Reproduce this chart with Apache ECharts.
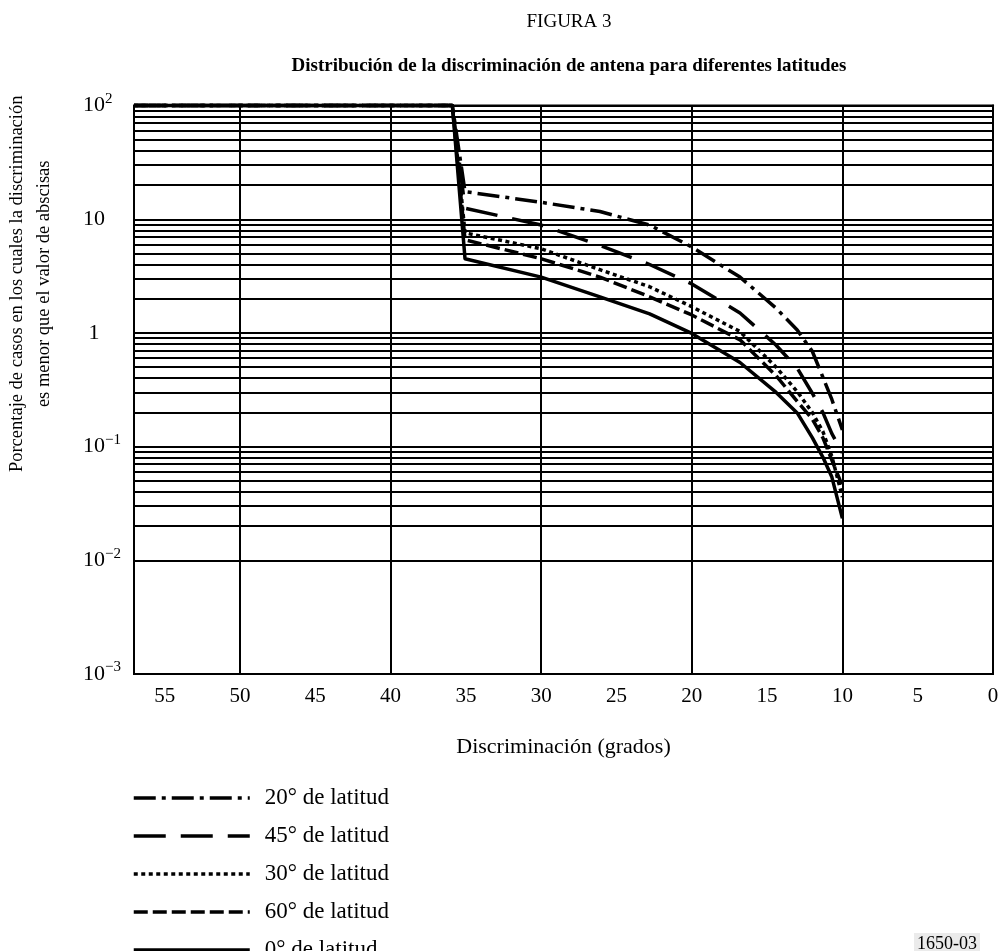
<!DOCTYPE html>
<html><head><meta charset="utf-8">
<script src="https://cdn.jsdelivr.net/npm/echarts@6/dist/echarts.min.js"></script>
<style>html,body{margin:0;padding:0;background:#fff}#c{width:1002px;height:951px}</style>
</head><body><div id="c"></div>
<script>
// Discrimination (degrees) sample points
const xDeg  = [57.04, 35.9, 35.06, 30.0, 26.1, 22.8, 20.0, 16.8, 14.4, 13.0, 12.0, 11.3, 10.7, 10.0];
// Percentage of cases per latitude
const lat20 = [100, 100, 17.5, 14.1, 11.7, 8.9, 5.7, 3.1, 1.65, 1.06, 0.69, 0.41, 0.26, 0.14];
const lat45 = [100, 100, 12.5, 8.9, 5.9, 4.0, 2.7, 1.5, 0.78, 0.49, 0.295, 0.20, 0.13, 0.088];
const lat30 = [100, 100, 7.6, 5.5, 3.6, 2.55, 1.70, 1.03, 0.50, 0.305, 0.20, 0.136, 0.082, 0.036];
const lat60 = [100, 100, 6.6, 4.5, 3.1, 2.08, 1.44, 0.87, 0.42, 0.25, 0.175, 0.12, 0.076, 0.045];
const lat0  = [100, 100, 4.5, 3.1, 2.08, 1.47, 0.99, 0.55, 0.30, 0.198, 0.12, 0.081, 0.054, 0.0234];
const seriesNames = ['20° de latitud', '45° de latitud', '30° de latitud', '60° de latitud', '0° de latitud'];
// y tick labels: [base, exponent]
const yTickLabels = {
  '0.001': ['10', '−3'], '0.01': ['10', '−2'], '0.1': ['10', '−1'],
  '1': ['1', ''], '10': ['10', ''], '100': ['10', '2']
};
const minorFactors = [2, 3, 4, 5, 6, 7, 8, 9];
const minorDecades = [0.001, 0.01, 0.1, 1, 10];

const FONT = 'Liberation Serif';
const X_MAX = 57.04;
const dashes = [[22, 6, 4, 6], [32, 15], [4, 3.5], [14, 5], 'solid'];
const values = [lat20, lat45, lat30, lat60, lat0];

const minorLines = [];
minorDecades.forEach(d => minorFactors.forEach(f => minorLines.push({ yAxis: +(d * f).toPrecision(3) })));

const chart = echarts.init(document.getElementById('c'), null, { renderer: 'canvas' });
const series = values.map((vals, i) => ({
  name: seriesNames[i], type: 'line', xAxisIndex: 0, yAxisIndex: 0,
  data: xDeg.map((x, j) => [x, vals[j]]),
  symbol: 'none', smooth: false, clip: false, z: 5,
  lineStyle: { color: '#000', width: 3.5, type: dashes[i], cap: 'butt', join: 'round' },
  itemStyle: { color: '#000' }
}));
series.push({
  name: 'grid', type: 'line', data: [], z: 1, silent: true,
  markLine: { silent: true, symbol: 'none', label: { show: false },
    lineStyle: { color: '#000', width: 2, type: 'solid' }, data: minorLines, animation: false }
});

chart.setOption({
  animation: false,
  backgroundColor: '#fff',
  textStyle: { fontFamily: FONT, color: '#000' },
  title: [
    { text: 'FIGURA 3', left: 564, top: 8, textAlign: 'center',
      textStyle: { fontFamily: FONT, fontSize: 19, fontWeight: 'normal', color: '#000' } },
    { text: 'Distribución de la discriminación de antena para diferentes latitudes', left: 564, top: 52, textAlign: 'center',
      textStyle: { fontFamily: FONT, fontSize: 19, fontWeight: 'bold', color: '#000' } },
    { text: '1650-03', left: 914, top: 933, padding: [2, 3],
      backgroundColor: '#ebebeb',
      textStyle: { fontFamily: FONT, fontSize: 18, fontWeight: 'normal', color: '#000' } }
  ],
  grid: { left: 134, right: 9, top: 105.6, bottom: 277, show: true, borderColor: '#000', borderWidth: 2,
    containLabel: false, outerBoundsMode: 'none' },
  legend: {
    data: seriesNames, orient: 'vertical', left: 132, top: 786.5, height: 300, padding: 0,
    itemWidth: 116, itemHeight: 14, itemGap: 15, selectedMode: false,
    itemStyle: { color: 'rgba(0,0,0,0)', borderWidth: 0, opacity: 0 },
    lineStyle: { width: 3.5, color: '#000' },
    textStyle: { fontFamily: FONT, fontSize: 23, color: '#000', padding: [0, 0, 0, 10] }
  },
  xAxis: [
    { type: 'value', min: 0, max: X_MAX, inverse: true, interval: 5,
      name: 'Discriminación (grados)', nameLocation: 'middle', nameGap: 62, nameMoveOverlap: false,
      nameTextStyle: { fontFamily: FONT, fontSize: 22, color: '#000' },
      axisLine: { show: true, lineStyle: { color: '#000', width: 2 } },
      axisTick: { show: false }, splitLine: { show: false },
      axisLabel: { fontFamily: FONT, fontSize: 21, color: '#000', margin: 12,
        formatter: v => (Math.abs(v % 5) < 1e-6 ? String(v) : '') } },
    { type: 'value', min: 0, max: X_MAX, inverse: true, interval: 10,
      axisLine: { show: false }, axisTick: { show: false }, axisLabel: { show: false },
      splitLine: { show: true, lineStyle: { color: '#000', width: 2 } } }
  ],
  yAxis: {
    type: 'log', logBase: 10, min: 0.001, max: 100,
    name: 'Porcentaje de casos en los cuales la discriminación\nes menor que el valor de abscisas',
    nameLocation: 'middle', nameRotate: 90, nameGap: 76, nameMoveOverlap: false,
    nameTextStyle: { fontFamily: FONT, fontSize: 18.5, color: '#000', lineHeight: 27, padding: [0, 0, 0, 212] },
    axisLine: { show: true, lineStyle: { color: '#000', width: 2 } },
    axisTick: { show: false },
    splitLine: { show: true, lineStyle: { color: '#000', width: 2 } },
    axisLabel: {
      margin: 40, align: 'center', color: '#000',
      formatter: v => {
        const key = String(+v.toPrecision(3));
        const t = yTickLabels[key];
        if (!t) return '';
        if (!t[1]) return '{b|' + t[0] + '}';
        return '{h|' + t[1] + '}{b|' + t[0] + '}{s|' + t[1] + '}';
      },
      rich: {
        b: { fontFamily: FONT, fontSize: 22, color: '#000' },
        s: { fontFamily: FONT, fontSize: 15, color: '#000', padding: [0, 0, 13, 0] },
        h: { fontFamily: FONT, fontSize: 15, color: 'rgba(0,0,0,0)', padding: [0, 0, 13, 0] }
      }
    }
  },
  series: series
});
</script></body></html>
